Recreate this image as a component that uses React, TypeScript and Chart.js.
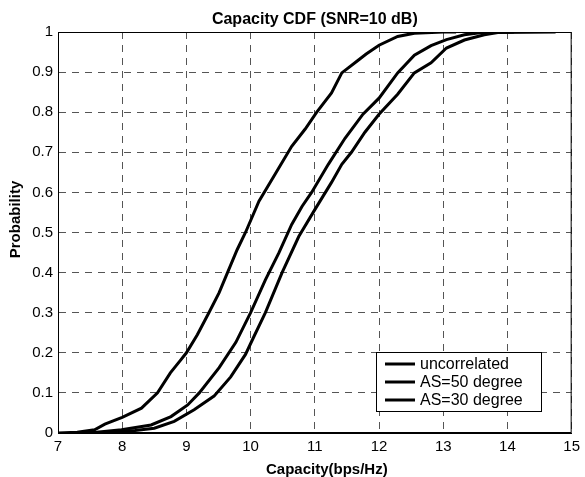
import React, { useEffect, useRef } from 'react';
import { Chart, registerables } from 'chart.js';

Chart.register(...registerables);

const chartTitle = 'Capacity CDF (SNR=10 dB)';
const xAxisTitle = 'Capacity(bps/Hz)';
const yAxisTitle = 'Probability';
const seriesNames = ['uncorrelated', 'AS=50 degree', 'AS=30 degree'];
const yTickLabels = ['0', '0.1', '0.2', '0.3', '0.4', '0.5', '0.6', '0.7', '0.8', '0.9', '1'];

const uncorrCapacity = [7.0, 7.3, 7.57, 7.73, 8.0, 8.3, 8.55, 8.75, 8.9, 9.0, 9.17, 9.35, 9.51, 9.64, 9.79, 9.92, 10.13, 10.39, 10.64, 10.85, 11.03, 11.26, 11.42, 11.67, 11.8, 12.0, 12.29, 12.55, 13.0, 13.2];
const uncorrProb = [0, 0.002, 0.008, 0.022, 0.039, 0.062, 0.1, 0.15, 0.18, 0.2, 0.245, 0.3, 0.35, 0.4, 0.457, 0.5, 0.578, 0.648, 0.715, 0.758, 0.8, 0.848, 0.898, 0.929, 0.945, 0.967, 0.989, 0.997, 1.0, 1.0];

const as50Capacity = [7.2, 7.6, 7.99, 8.45, 8.76, 9.02, 9.2, 9.51, 9.77, 10.0, 10.23, 10.44, 10.64, 10.8, 10.95, 11.21, 11.47, 11.75, 12.0, 12.29, 12.55, 12.81, 13.05, 13.33, 13.6, 14.1];
const as50Prob = [0, 0.002, 0.008, 0.02, 0.041, 0.07, 0.1, 0.163, 0.226, 0.3, 0.382, 0.449, 0.52, 0.565, 0.6, 0.67, 0.735, 0.795, 0.835, 0.898, 0.942, 0.966, 0.981, 0.993, 0.999, 1.0];

const as30Capacity = [7.3, 7.8, 8.2, 8.5, 8.81, 9.12, 9.43, 9.69, 9.92, 10.05, 10.23, 10.49, 10.75, 11.0, 11.26, 11.42, 11.57, 11.78, 12.0, 12.29, 12.55, 12.81, 13.05, 13.33, 13.64, 13.85, 14.75];
const as30Prob = [0, 0.002, 0.006, 0.012, 0.029, 0.058, 0.092, 0.14, 0.196, 0.24, 0.3, 0.4, 0.49, 0.557, 0.625, 0.67, 0.7, 0.75, 0.795, 0.845, 0.898, 0.923, 0.96, 0.98, 0.993, 0.999, 1.0];

const toPoints = (xs: number[], ys: number[]) => xs.map((x, i) => ({ x, y: ys[i] }));

const FONT = '"Liberation Sans", Arial, Helvetica, sans-serif';

const overlayPlugin = {
  id: 'overlay',
  afterDraw(chart: any) {
    const { ctx, chartArea: a } = chart;
    ctx.save();
    // axes box
    ctx.strokeStyle = '#000';
    ctx.lineWidth = 1;
    ctx.setLineDash([]);
    ctx.strokeRect(a.left + 0.5, a.top + 0.5, a.right - a.left - 1, a.bottom - a.top - 1);

    // title
    ctx.fillStyle = '#000';
    ctx.font = `bold 16px ${FONT}`;
    ctx.textAlign = 'center';
    ctx.textBaseline = 'alphabetic';
    ctx.fillText(chartTitle, (a.left + a.right) / 2, 23.5);

    // x label
    ctx.font = `bold 15px ${FONT}`;
    ctx.textAlign = 'center';
    ctx.fillText(xAxisTitle, (a.left + a.right) / 2 + 12, 474);

    // y label
    ctx.save();
    ctx.translate(16, (a.top + a.bottom) / 2 - 13);
    ctx.rotate(-Math.PI / 2);
    ctx.textAlign = 'center';
    ctx.textBaseline = 'middle';
    ctx.fillText(yAxisTitle, 0, 0);
    ctx.restore();

    // legend
    const lx = 376, ly = 352, lw = 165, lh = 59;
    ctx.fillStyle = '#fff';
    ctx.fillRect(lx, ly, lw, lh);
    ctx.strokeStyle = '#000';
    ctx.lineWidth = 1;
    ctx.strokeRect(lx + 0.5, ly + 0.5, lw, lh);
    ctx.font = `16px ${FONT}`;
    ctx.textAlign = 'left';
    ctx.textBaseline = 'middle';
    chart.data.datasets.forEach((ds: any, i: number) => {
      const yy = ly + 12 + i * 18;
      ctx.strokeStyle = ds.borderColor;
      ctx.lineWidth = 3;
      ctx.beginPath();
      ctx.moveTo(lx + 9, yy);
      ctx.lineTo(lx + 39, yy);
      ctx.stroke();
      ctx.fillStyle = '#000';
      ctx.fillText(ds.label, lx + 44, yy + 1);
    });
    ctx.restore();
  },
};

export default function App() {
  const ref = useRef<HTMLCanvasElement | null>(null);
  useEffect(() => {
    if (!ref.current) return;
    const series = [
      toPoints(uncorrCapacity, uncorrProb),
      toPoints(as50Capacity, as50Prob),
      toPoints(as30Capacity, as30Prob),
    ];
    const chart = new Chart(ref.current, {
      type: 'line',
      data: {
        datasets: series.map((pts, i) => ({
          label: seriesNames[i],
          data: pts,
          borderColor: '#000',
          backgroundColor: '#000',
          borderWidth: 3,
          pointRadius: 0,
          tension: 0,
          fill: false,
        })),
      },
      options: {
        animation: false,
        responsive: false,
        devicePixelRatio: 1,
        layout: { padding: { left: 0, right: 10, top: 32, bottom: 0 } },
        plugins: {
          legend: { display: false },
          title: { display: false },
          tooltip: { enabled: false },
        },
        scales: {
          x: {
            type: 'linear',
            min: 7,
            max: 15,
            ticks: {
              stepSize: 1,
              color: '#000',
              font: { family: FONT, size: 15 },
              padding: 5,
              maxRotation: 0,
            },
            grid: { color: '#555', lineWidth: 1, drawTicks: false },
            border: { display: true, color: '#000', dash: [7, 6] },
            afterFit: (s: any) => { s.height = 44; },
          },
          y: {
            type: 'linear',
            min: 0,
            max: 1,
            ticks: {
              stepSize: 0.1,
              color: '#000',
              font: { family: FONT, size: 15 },
              padding: 5,
              callback: (_v: any, i: number) => yTickLabels[i],
            },
            grid: { color: '#555', lineWidth: 1, drawTicks: false },
            border: { display: true, color: '#000', dash: [7, 6] },
            afterFit: (s: any) => { s.width = 58; },
          },
        },
      },
      plugins: [overlayPlugin],
    });
    return () => chart.destroy();
  }, []);
  return (
    <div style={{ position: 'fixed', left: 0, top: 0, width: 585, height: 477, background: '#fff' }}>
      <canvas ref={ref} width={585} height={477} style={{ display: 'block' }} />
    </div>
  );
}
